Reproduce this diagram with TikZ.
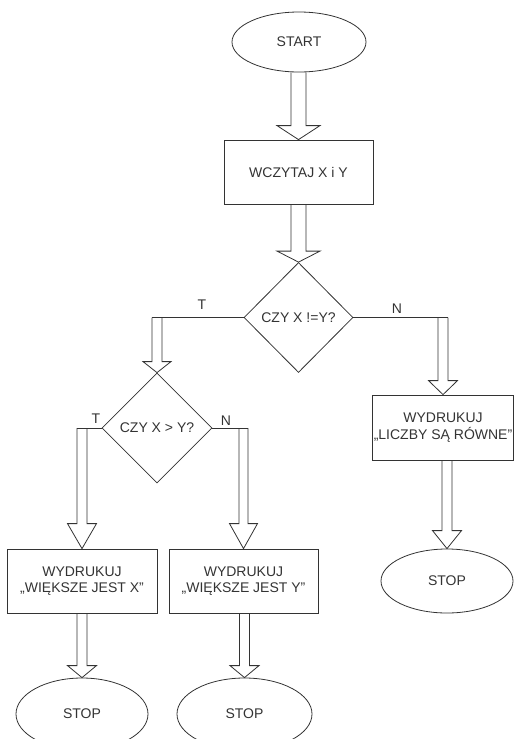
\documentclass[tikz,border=0pt]{standalone}
\usepackage{fontspec}
\setmainfont{Liberation Sans}
\usetikzlibrary{shapes.geometric, calc}

\begin{document}
\begin{tikzpicture}[x=1pt, y=-1pt, line width=0.8pt, color=black!80,
  every node/.style={font=\fontsize{14}{16.5}\selectfont},
  owal/.style={draw, ellipse, inner sep=0pt},
  ramka/.style={draw, rectangle, align=center, inner sep=1pt},
  decyzja/.style={draw, diamond, inner sep=0pt},
  strzalka/.style n args={3}{to path={
    ($(\tikztostart -| \tikztotarget)+(-#1,0)$) -- ($(\tikztotarget)+(-#1,#3)$)
    -- ($(\tikztotarget)+(-#2,#3)$) -- (\tikztotarget) -- ($(\tikztotarget)+(#2,#3)$)
    -- ($(\tikztotarget)+(#1,#3)$) -- ($(\tikztostart -| \tikztotarget)+(#1,0)$)}}]

\useasboundingbox (0,0) rectangle (514,739);
\clip (0,0) rectangle (514,739);

\node[owal, minimum width=134pt, minimum height=60pt] (start) at (299,42) {START};
\node[ramka, minimum width=149pt, minimum height=64pt] (wczytaj) at (298.5,172) {WCZYTAJ X i Y};
\node[decyzja, minimum width=109pt, minimum height=110pt] (d1) at (298.5,317.5) {CZY X !=Y?};
\node[decyzja, minimum width=110pt, minimum height=110pt] (d2) at (157,428) {CZY X > Y?};
\node[ramka, minimum width=140pt, minimum height=65pt] (rowne) at (443,427.5) {WYDRUKUJ\\„LICZBY SĄ RÓWNE"};
\node[ramka, minimum width=150pt, minimum height=64pt] (wx) at (82,581) {WYDRUKUJ\\„WIĘKSZE JEST X"};
\node[ramka, minimum width=149pt, minimum height=64pt] (wy) at (243.5,581) {WYDRUKUJ\\„WIĘKSZE JEST Y"};
\node[owal, minimum width=132pt, minimum height=72pt] (stop1) at (82,714) {STOP};
\node[owal, minimum width=135pt, minimum height=72pt] (stop2) at (244.5,714) {STOP};
\node[owal, minimum width=132pt, minimum height=64pt] (stop3) at (447,581) {STOP};

\node (t1) at (202,305) {T};
\node (n1) at (397,309) {N};
\node (t2) at (96,419) {T};
\node (n2) at (226,421) {N};

% gałęzie
\draw (d1.west) -- ($(d1.west -| d2.north)+(-5pt,0)$);
\draw (d1.east) -- ($(d1.east -| rowne.north)+(5pt,0)$);
\draw (d2.west) -- ($(d2.west -| wx.north)+(-5pt,0)$);
\draw (d2.east) -- ($(d2.east -| wy.north)+(4.5pt,0)$);

\draw (start.south) to[strzalka={7.5pt}{21.5pt}{14pt}] (wczytaj.north);
\draw (wczytaj.south) to[strzalka={7.5pt}{21.5pt}{11pt}] (d1.north);
\draw (d1.west) to[strzalka={5pt}{14pt}{11pt}] (d2.north);
\draw (d1.east) to[strzalka={5pt}{14.5pt}{14pt}] (rowne.north);
\draw (d2.west) to[strzalka={5pt}{14.5pt}{25pt}] (wx.north);
\draw (d2.east) to[strzalka={4.5pt}{14pt}{25pt}] (wy.north);
\draw (wx.south) to[strzalka={5pt}{14.5pt}{12pt}] (stop1.north);
\draw (wy.south) to[strzalka={5pt}{14.5pt}{12pt}] (stop2.north);
\draw (rowne.south) to[strzalka={5pt}{14.5pt}{18pt}] (stop3.north);
\end{tikzpicture}
\end{document}
